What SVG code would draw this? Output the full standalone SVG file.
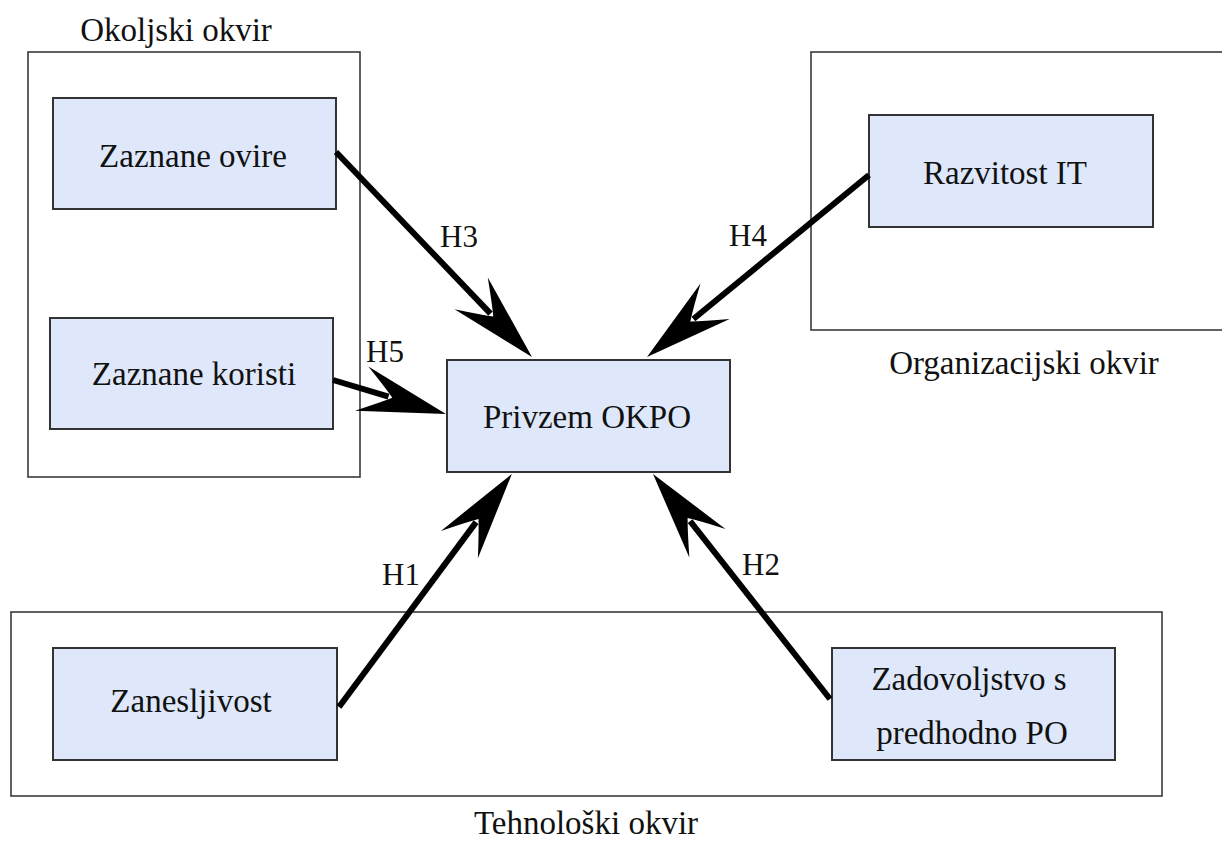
<svg xmlns="http://www.w3.org/2000/svg" width="1222" height="841" viewBox="0 0 1222 841">
<style>
.frame{fill:none;stroke:#3a3a3a;stroke-width:1.6}
.box{fill:#dee8fa;stroke:#333;stroke-width:2}
.t{font-family:"Liberation Serif","Noto Serif","DejaVu Serif",FreeSerif,Times,"Times New Roman",serif;font-size:33px;fill:#111;text-anchor:middle}
.h{font-family:"Liberation Serif","Noto Serif","DejaVu Serif",FreeSerif,Times,"Times New Roman",serif;font-size:31px;fill:#111}
.c{fill:none;stroke:#000;stroke-width:6;stroke-linecap:butt}
</style>
<defs>
<marker id="ah" markerUnits="userSpaceOnUse" orient="auto" refX="0" refY="0" markerWidth="100" markerHeight="60" overflow="visible">
<path d="M60,0 L-28,-23 Q-6,-8 4,0 Q-6,8 -28,23 Z" fill="#000"/>
</marker>
</defs>
<rect width="1222" height="841" fill="#fff"/>
<g id="okoljski-okvir">
<rect class="frame" x="28" y="52" width="332" height="425"/>
<text class="t" x="176" y="41">Okoljski okvir</text>
</g>
<g id="organizacijski-okvir">
<rect class="frame" x="811" y="52" width="430" height="278"/>
<text class="t" x="1024" y="374">Organizacijski okvir</text>
</g>
<g id="tehnoloski-okvir">
<rect class="frame" x="11" y="612" width="1151" height="184"/>
<text class="t" x="586" y="834">Tehnološki okvir</text>
</g>
<g id="zaznane-ovire">
<rect class="box" x="53" y="98" width="283" height="111"/>
<text class="t" x="193" y="167">Zaznane ovire</text>
</g>
<g id="zaznane-koristi">
<rect class="box" x="50" y="318" width="283" height="111"/>
<text class="t" x="194" y="385">Zaznane koristi</text>
</g>
<g id="privzem-okpo">
<rect class="box" x="447" y="360" width="283" height="112"/>
<text class="t" x="587" y="428">Privzem OKPO</text>
</g>
<g id="razvitost-it">
<rect class="box" x="869" y="115" width="284" height="112"/>
<text class="t" x="1005" y="184">Razvitost IT</text>
</g>
<g id="zanesljivost">
<rect class="box" x="53" y="648" width="284" height="112"/>
<text class="t" x="191" y="712">Zanesljivost</text>
</g>
<g id="zadovoljstvo">
<rect class="box" x="832" y="648" width="283" height="112"/>
<text class="t" x="969" y="690">Zadovoljstvo s</text>
<text class="t" x="972" y="744">predhodno PO</text>
</g>
<g id="connectors">
<line class="c" x1="336" y1="152" x2="490.5" y2="313.6" marker-end="url(#ah)"/>
<line class="c" x1="869" y1="175" x2="693.4" y2="319" marker-end="url(#ah)"/>
<line class="c" x1="333" y1="380" x2="388.5" y2="396.7" marker-end="url(#ah)"/>
<line class="c" x1="339" y1="707" x2="476.1" y2="522.1" marker-end="url(#ah)"/>
<line class="c" x1="830" y1="699" x2="690.1" y2="521.2" marker-end="url(#ah)"/>
<text class="h" x="440" y="247">H3</text>
<text class="h" x="729" y="246">H4</text>
<text class="h" x="366" y="362">H5</text>
<text class="h" x="382" y="585">H1</text>
<text class="h" x="742" y="575">H2</text>
</g>
</svg>
